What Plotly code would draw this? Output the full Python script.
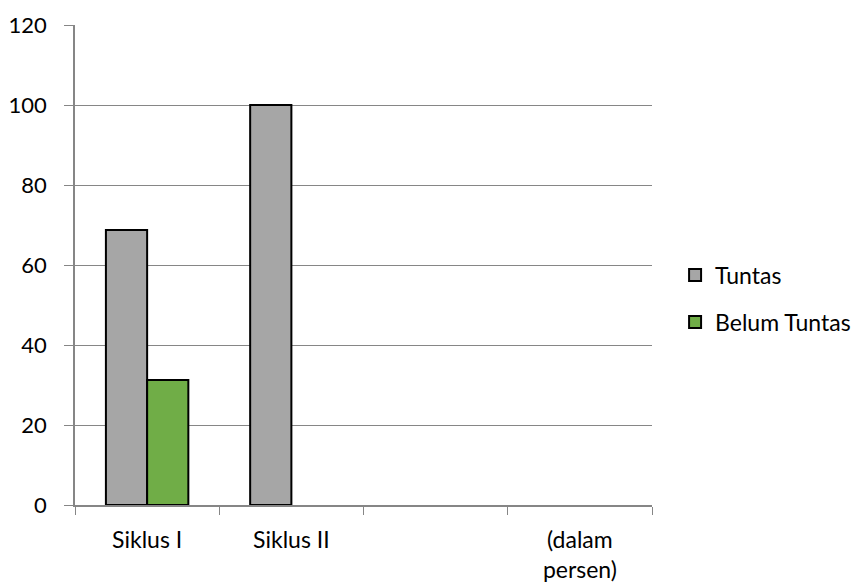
import plotly.graph_objects as go

categories = ["Siklus I", "Siklus II", " ", "(dalam<br>persen)"]
tuntas = [68.75, 100, None, None]
belum_tuntas = [31.25, 0, None, None]
y_ticks = [0, 20, 40, 60, 80, 100, 120]

FONT = "Lato, Carlito, Calibri, sans-serif"

fig = go.Figure()
fig.add_trace(go.Bar(
    x=categories, y=tuntas, name="Tuntas",
    marker=dict(color="#A6A6A6", line=dict(color="black", width=2)),
    legendgroup="a",
))
fig.add_trace(go.Bar(
    x=categories, y=belum_tuntas, name="Belum Tuntas",
    marker=dict(color="#70AD47",
                line=dict(color="black", width=[2 if (v or 0) > 0 else 0 for v in belum_tuntas])),
    legendgroup="b",
))

fig.update_layout(
    width=866, height=582,
    margin=dict(l=75, r=214, t=25, b=77, autoexpand=False),
    paper_bgcolor="white", plot_bgcolor="white",
    barmode="group", bargap=0.4286, bargroupgap=0,
    font=dict(family=FONT, size=22, color="black"),
    showlegend=True,
    legend=dict(x=1.04, y=0.43, xanchor="left", yanchor="middle",
                font=dict(size=23), tracegroupgap=14, traceorder="grouped",
                bgcolor="rgba(0,0,0,0)", itemwidth=30),
)
fig.update_xaxes(
    type="category", categoryorder="array", categoryarray=categories,
    showline=True, linecolor="#868686", linewidth=1.5,
    ticks="outside", tickson="boundaries", ticklen=8, tickcolor="#868686",
    showgrid=False, tickfont=dict(size=23), ticklabelstandoff=14,
    automargin=False,
)
fig.update_yaxes(
    range=[0, 120], tickvals=y_ticks,
    showline=True, linecolor="#868686", linewidth=1.5,
    ticks="outside", ticklen=9, tickcolor="#868686",
    showgrid=True, gridcolor="#868686", gridwidth=1,
    zeroline=False, ticklabelstandoff=13, tickfont=dict(size=22),
    automargin=False,
)

fig.write_html("out.html")
